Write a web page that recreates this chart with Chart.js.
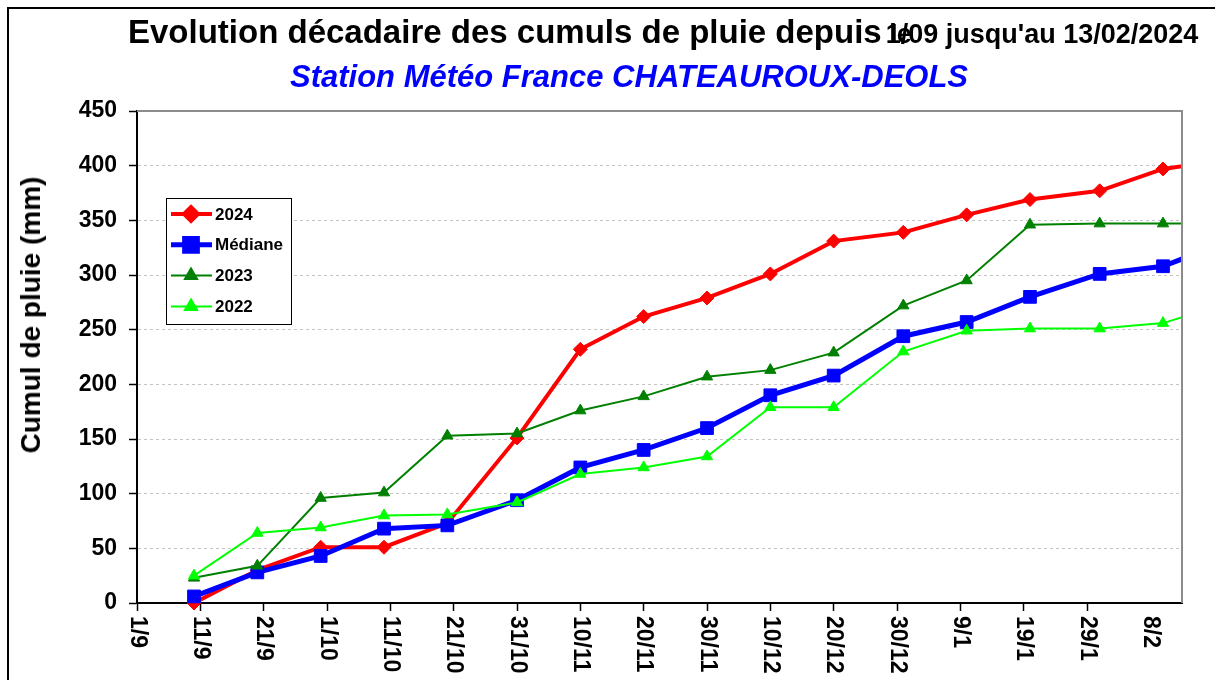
<!DOCTYPE html>
<html lang="fr">
<head>
<meta charset="utf-8">
<title>Cumuls de pluie CHATEAUROUX-DEOLS</title>
<script src="https://cdn.jsdelivr.net/npm/chart.js@4.4.1/dist/chart.umd.min.js"></script>
<style>
    html, body { margin: 0; padding: 0; background: #fff; }
    #wrap { position: relative; width: 1215px; height: 680px; overflow: hidden; font-family: 'Liberation Sans', Arial, sans-serif; }
    #frame { position: absolute; left: 7px; top: 7px; width: 1300px; height: 800px; border-top: 2px solid #000; border-left: 2px solid #000; }
    #chart { position: absolute; left: 0; top: 0; }
    #title { position: absolute; left: 128px; top: 15px; font-size: 33px; font-weight: bold; line-height: 1; white-space: nowrap; color: #000; }
    #title .small { font-size: 27px; }
    #title .ov { display: inline-block; width: 4px; white-space: pre; font-size: 27px; }
    #subtitle { position: absolute; left: 290px; top: 61px; font-size: 31px; font-weight: bold; font-style: italic; line-height: 1; white-space: nowrap; color: #0000ff; }
    #ytitle { position: absolute; left: 31px; top: 315px; transform: translate(-50%, -50%) rotate(-90deg); font-size: 28px; font-weight: bold; line-height: 1; white-space: nowrap; color: #000; }
</style>
</head>
<body>
<div id="wrap">
    <div id="frame"></div>
    <canvas id="chart" width="1215" height="680"></canvas>
    <div id="title">Evolution décadaire des cumuls de pluie depuis<span class="ov"> le </span><span class="small">1/09 jusqu'au 13/02/2024</span></div>
    <div id="subtitle">Station Météo France CHATEAUROUX-DEOLS</div>
    <div id="ytitle">Cumul de pluie (mm)</div>
</div>
<script>
//----------------------------------DATA-------------------------------------

// days since 1/9, one point per end of decade (the last one is past the axis edge)
const days = [9, 19, 29, 39, 49, 60, 70, 80, 90, 100, 110, 121, 131, 141, 152, 162, 172];

const rain2024 = [0, 30, 51, 51, 73, 151, 232, 262, 279, 301, 331, 339, 355, 369, 377, 397, 405];
const mediane  = [6, 28, 43, 68, 71, 94, 124, 140, 160, 190, 208, 244, 257, 280, 301, 308, 330];
const rain2023 = [23, 34, 96, 101, 153, 155, 176, 189, 207, 213, 229, 272, 295, 346, 347, 347, 347];
const rain2022 = [25, 64, 69, 80, 81, 92, 118, 124, 134, 179, 179, 230, 249, 251, 251, 256, 274];

// x tick labels, one every 10 days from 1/9
const xLabels = ['1/9', '11/9', '21/9', '1/10', '11/10', '21/10', '31/10', '10/11', '20/11',
    '30/11', '10/12', '20/12', '30/12', '9/1', '19/1', '29/1', '8/2'];

const FONT = "'Liberation Sans', Arial, sans-serif";

function toPoints(values) {
    return values.map((v, i) => ({ x: days[i], y: v }));
}

//----------------------------------PLUGINS-------------------------------------

// x labels are written top to bottom (rotated clockwise)
const rotatedLabels = {
    id: 'rotatedLabels',
    afterDraw(chart) {
        const ctx = chart.ctx;
        const xs = chart.scales.x;
        ctx.save();
        ctx.font = 'bold 23px ' + FONT;
        ctx.fillStyle = '#000';
        ctx.textAlign = 'left';
        ctx.textBaseline = 'middle';
        xLabels.forEach((label, i) => {
            const x = xs.getPixelForValue(i * 10);
            ctx.save();
            ctx.translate(x, chart.chartArea.bottom + 13);
            ctx.rotate(Math.PI / 2);
            ctx.fillText(label, 0, 0);
            ctx.restore();
        });
        ctx.restore();
    }
};

// grey top and right edges of the plot area
const plotFrame = {
    id: 'plotFrame',
    afterDraw(chart) {
        const { ctx, chartArea: a } = chart;
        ctx.save();
        ctx.strokeStyle = '#8c8c8c';
        ctx.lineWidth = 2;
        ctx.beginPath();
        ctx.moveTo(a.left, a.top);
        ctx.lineTo(a.right, a.top);
        ctx.lineTo(a.right, a.bottom);
        ctx.stroke();
        ctx.restore();
    }
};

// legend box inside the plot, like the original
const boxLegend = {
    id: 'boxLegend',
    afterDraw(chart) {
        const ctx = chart.ctx;
        const left = 166, top = 198, width = 125, height = 126;
        ctx.save();
        ctx.fillStyle = '#fff';
        ctx.fillRect(left, top, width, height);
        ctx.strokeStyle = '#000';
        ctx.lineWidth = 1;
        ctx.strokeRect(left + 0.5, top + 0.5, width, height);
        ctx.font = 'bold 17px ' + FONT;
        ctx.textBaseline = 'middle';
        chart.data.datasets.forEach((ds, i) => {
            const y = top + 16 + i * 30.8;
            ctx.strokeStyle = ds.borderColor;
            ctx.lineWidth = ds.borderWidth;
            ctx.beginPath();
            ctx.moveTo(left + 5, y);
            ctx.lineTo(left + 46, y);
            ctx.stroke();
            ctx.fillStyle = ds.pointBackgroundColor;
            ctx.strokeStyle = ds.borderColor;
            Chart.helpers.drawPoint(ctx, {
                pointStyle: ds.pointStyle,
                radius: ds.legendRadius,
                rotation: 0,
                borderWidth: 1
            }, left + 25, y);
            ctx.fillStyle = '#000';
            ctx.fillText(ds.label, left + 49, y + 1);
        });
        ctx.restore();
    }
};

//----------------------------------CHART-------------------------------------

const ctx = document.getElementById('chart').getContext('2d');
const clipArea = { left: 20, top: 20, right: 0, bottom: 20 };

const rainChart = new Chart(ctx, {
    type: 'line',
    data: {
        datasets: [
            {
                label: '2024',
                data: toPoints(rain2024),
                borderColor: '#ff0000',
                pointBackgroundColor: '#ff0000',
                borderWidth: 4,
                pointStyle: 'rectRot',
                pointRadius: 7,
                legendRadius: 7,
                pointBorderWidth: 1,
                clip: clipArea,
                order: 4
            },
            {
                label: 'Médiane',
                data: toPoints(mediane),
                borderColor: '#0000ff',
                pointBackgroundColor: '#0000ff',
                borderWidth: 5,
                pointStyle: 'rect',
                pointRadius: 9,
                legendRadius: 9,
                pointBorderWidth: 1,
                clip: clipArea,
                order: 3
            },
            {
                label: '2023',
                data: toPoints(rain2023),
                borderColor: '#008000',
                pointBackgroundColor: '#008000',
                borderWidth: 2,
                pointStyle: 'triangle',
                pointRadius: 6.5,
                legendRadius: 7,
                pointBorderWidth: 1,
                clip: clipArea,
                order: 2
            },
            {
                label: '2022',
                data: toPoints(rain2022),
                borderColor: '#00ff00',
                pointBackgroundColor: '#00ff00',
                borderWidth: 2,
                pointStyle: 'triangle',
                pointRadius: 6.5,
                legendRadius: 7,
                pointBorderWidth: 1,
                clip: clipArea,
                order: 1
            }
        ]
    },
    options: {
        responsive: false,
        animation: false,
        layout: { padding: { top: 111, right: 33, left: 0, bottom: 0 } },
        plugins: {
            legend: { display: false },
            title: { display: false },
            tooltip: { enabled: false }
        },
        scales: {
            x: {
                type: 'linear',
                min: 0,
                max: 165,
                ticks: { stepSize: 10, display: false },
                afterBuildTicks: (scale) => {
                    scale.ticks = scale.ticks.filter(t => t.value % 10 === 0);
                },
                afterFit: (scale) => { scale.height = 77; },
                grid: {
                    drawOnChartArea: false,
                    tickColor: '#000',
                    tickLength: 8,
                    tickWidth: 1.5
                },
                border: { color: '#000', width: 2 }
            },
            y: {
                min: 0,
                max: 450,
                ticks: {
                    stepSize: 50,
                    color: '#000',
                    padding: 12,
                    font: { family: FONT, size: 23, weight: 'bold' }
                },
                afterFit: (scale) => { scale.width = 137; },
                grid: {
                    color: (c) => (c.tick && (c.tick.value === 0 || c.tick.value === 450)) ? 'rgba(0,0,0,0)' : '#c4c4c4',
                    lineWidth: 1,
                    tickColor: '#000',
                    tickLength: 8,
                    tickWidth: 1.5
                },
                border: { color: '#000', width: 2, dash: [3, 3] }
            }
        }
    },
    plugins: [plotFrame, rotatedLabels, boxLegend]
});
</script>
</body>
</html>
